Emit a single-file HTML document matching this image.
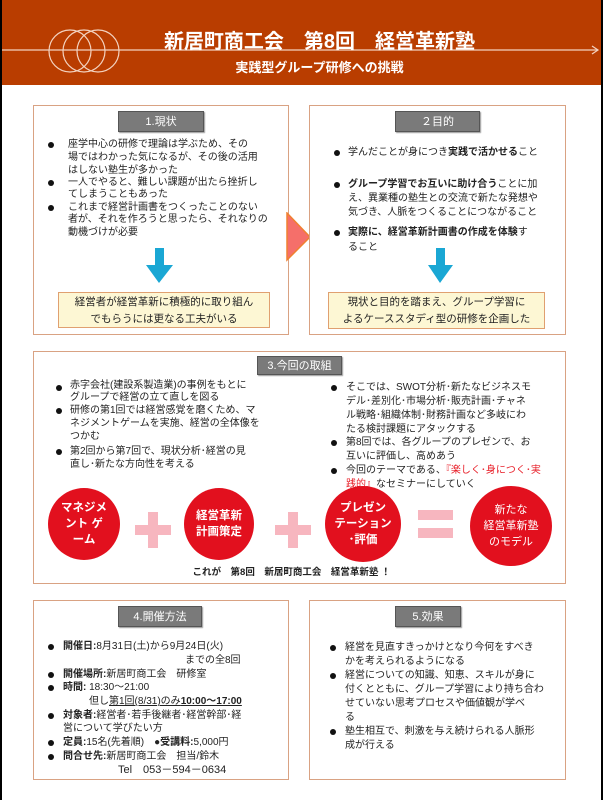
<!DOCTYPE html>
<html><head><meta charset="utf-8"><style>
*{margin:0;padding:0;box-sizing:border-box}
body{width:603px;height:800px;position:relative;background:#fff;overflow:hidden;font-family:"Liberation Sans","Noto Sans CJK JP",sans-serif;color:#222}
.a{position:absolute;white-space:nowrap}
.box{position:absolute;border:1.5px solid #d9a283;background:#fff}
.tag{position:absolute;background:#7a7a7a;border:1px solid #555;color:#fff;font-size:11px;text-align:center;line-height:20px;box-shadow:1px 1px 1px #999}
.t{position:absolute;white-space:nowrap;font-size:10px;line-height:14px;height:14px}
.b{position:absolute;width:6px;height:6px;border-radius:50%;background:#111}
.y{position:absolute;background:#fdf7d4;border:1.5px solid #e0a070;font-size:10.5px;text-align:center;line-height:17px;padding-top:1px}
.c{position:absolute;border-radius:50%;background:#e2101e;color:#fff;font-weight:bold;font-size:11.5px;display:flex;align-items:center;justify-content:center;text-align:center;line-height:16px}
.pk{position:absolute;background:#f7b6bf}
b{font-weight:bold}
</style></head><body>
<div class="a" style="left:0;top:0;width:2px;height:800px;background:#000"></div>
<div class="a" style="right:0;top:0;width:2px;height:800px;background:#000"></div>
<div class="a" style="left:2px;top:0;width:599px;height:85px;background:#b93d00"></div>
<svg class="a" style="left:0;top:0" width="603" height="85">
<g fill="none" stroke="#f3d2bf" stroke-width="1.2">
<circle cx="70" cy="51" r="21"/><circle cx="84" cy="51" r="21"/><circle cx="98" cy="51" r="21"/>
<line x1="2" y1="50" x2="598" y2="50"/><polyline points="592,46 598,50 592,54"/></g>
</svg>
<div class="a" style="left:0;width:603px;top:25px;text-align:center;color:#fff;font-size:20px;font-weight:bold;padding-left:36px">新居町商工会　第8回　経営革新塾</div>
<div class="a" style="left:0;width:603px;top:57px;text-align:center;color:#fff;font-size:13px;font-weight:bold;padding-left:36px">実践型グループ研修への挑戦</div>

<!-- box1 -->
<div class="box" style="left:33px;top:105px;width:256px;height:230px"></div>
<div class="tag" style="left:118px;top:111px;width:86px;height:21px">1.現状</div>
<div class="b" style="left:48px;top:142px"></div><div class="t" style="left:68px;top:138px">座学中心の研修で理論は学ぶため、その</div>
<div class="t" style="left:68px;top:151px">場ではわかった気になるが、その後の活用</div>
<div class="t" style="left:68px;top:164px">はしない塾生が多かった</div>
<div class="b" style="left:48px;top:180px"></div><div class="t" style="left:68px;top:176px">一人でやると、難しい課題が出たら挫折し</div>
<div class="t" style="left:68px;top:188px">てしまうこともあった</div>
<div class="b" style="left:48px;top:205px"></div><div class="t" style="left:68px;top:201px">これまで経営計画書をつくったことのない</div>
<div class="t" style="left:68px;top:213px">者が、それを作ろうと思ったら、それなりの</div>
<div class="t" style="left:68px;top:226px">動機づけが必要</div>
<svg class="a" style="left:145px;top:248px" width="30" height="36"><polygon points="10,0 19,0 19,17 28,17 14,35 1,17 10,17" fill="#1aa7d4"/></svg>
<div class="y" style="left:58px;top:292px;width:212px;height:36px">経営者が経営革新に積極的に取り組ん<br>でもらうには更なる工夫がいる</div>

<svg class="a" style="left:286px;top:212px" width="26" height="50"><polygon points="1,1 24,25 1,48" fill="#f56f6a" stroke="#f08030" stroke-width="1.5"/></svg>

<!-- box2 -->
<div class="box" style="left:309px;top:105px;width:257px;height:230px"></div>
<div class="tag" style="left:395px;top:111px;width:85px;height:21px">２目的</div>
<div class="b" style="left:334px;top:150px"></div><div class="t" style="left:348px;top:146px">学んだことが身につき<b>実践で活かせる</b>こと</div>
<div class="b" style="left:334px;top:182px"></div><div class="t" style="left:348px;top:178px"><b>グループ学習でお互いに助け合う</b>ことに加</div>
<div class="t" style="left:348px;top:192px">え、異業種の塾生との交流で新たな発想や</div>
<div class="t" style="left:348px;top:206px">気づき、人脈をつくることにつながること</div>
<div class="b" style="left:334px;top:230px"></div><div class="t" style="left:348px;top:226px"><b>実際に、経営革新計画書の作成を体験</b>す</div>
<div class="t" style="left:348px;top:241px">ること</div>
<svg class="a" style="left:427px;top:248px" width="28" height="36"><polygon points="9,0 18,0 18,17 26,17 13,35 1,17 9,17" fill="#1aa7d4"/></svg>
<div class="y" style="left:328px;top:292px;width:217px;height:37px">現状と目的を踏まえ、グループ学習に<br>よるケーススタディ型の研修を企画した</div>

<!-- box3 -->
<div class="box" style="left:33px;top:351px;width:533px;height:233px"></div>
<div class="tag" style="left:257px;top:356px;width:85px;height:19px;line-height:18px">3.今回の取組</div>
<div class="b" style="left:56px;top:385px"></div><div class="t" style="left:70px;top:379px">赤字会社(建設系製造業)の事例をもとに</div>
<div class="t" style="left:70px;top:391px">グループで経営の立て直しを図る</div>
<div class="b" style="left:56px;top:408px"></div><div class="t" style="left:70px;top:404px">研修の第1回では経営感覚を磨くため、マ</div>
<div class="t" style="left:70px;top:417px">ネジメントゲームを実施、経営の全体像を</div>
<div class="t" style="left:70px;top:430px">つかむ</div>
<div class="b" style="left:56px;top:449px"></div><div class="t" style="left:70px;top:445px">第2回から第7回で、現状分析･経営の見</div>
<div class="t" style="left:70px;top:458px">直し･新たな方向性を考える</div>
<div class="b" style="left:331px;top:385px"></div><div class="t" style="left:346px;top:381px">そこでは、SWOT分析･新たなビジネスモ</div>
<div class="t" style="left:346px;top:395px">デル･差別化･市場分析･販売計画･チャネ</div>
<div class="t" style="left:346px;top:409px">ル戦略･組織体制･財務計画など多岐にわ</div>
<div class="t" style="left:346px;top:423px">たる検討課題にアタックする</div>
<div class="b" style="left:331px;top:440px"></div><div class="t" style="left:346px;top:436px">第8回では、各グループのプレゼンで、お</div>
<div class="t" style="left:346px;top:450px">互いに評価し、高めあう</div>
<div class="b" style="left:331px;top:468px"></div><div class="t" style="left:346px;top:464px">今回のテーマである、<span style="color:#e8202a">『楽しく･身につく･実</span></div>
<div class="t" style="left:346px;top:478px"><span style="color:#e8202a">践的』</span>なセミナーにしていく</div>

<div class="c" style="left:48px;top:488px;width:72px;height:72px">マネジメ<br>ント ゲ<br>ーム</div>
<div class="pk" style="left:135px;top:525px;width:36px;height:10px"></div><div class="pk" style="left:148px;top:512px;width:10px;height:36px"></div>
<div class="c" style="left:184px;top:488px;width:70px;height:72px">経営革新<br>計画策定</div>
<div class="pk" style="left:275px;top:525px;width:36px;height:10px"></div><div class="pk" style="left:288px;top:512px;width:10px;height:36px"></div>
<div class="c" style="left:325px;top:486px;width:76px;height:76px">プレゼン<br>テーション<br>･評価</div>
<div class="pk" style="left:418px;top:510px;width:35px;height:10px"></div><div class="pk" style="left:418px;top:528px;width:35px;height:10px"></div>
<div class="c" style="left:470px;top:486px;width:82px;height:80px;font-weight:normal;font-size:11px">新たな<br>経営革新塾<br>のモデル</div>
<div class="t" style="left:0;width:603px;text-align:center;top:566px;font-weight:bold;font-size:9.5px"><span style="margin-right:20px">これが　第8回　新居町商工会　経営革新塾 ！</span></div>

<!-- box4 -->
<div class="box" style="left:33px;top:600px;width:256px;height:180px"></div>
<div class="tag" style="left:118px;top:606px;width:84px;height:21px">4.開催方法</div>
<div class="b" style="left:48px;top:644px"></div><div class="t" style="left:63px;top:640px"><b>開催日:</b>8月31日(土)から9月24日(火)</div>
<div class="t" style="left:185px;top:654px">までの全8回</div>
<div class="b" style="left:48px;top:672px"></div><div class="t" style="left:63px;top:668px"><b>開催場所:</b>新居町商工会　研修室</div>
<div class="b" style="left:48px;top:685px"></div><div class="t" style="left:63px;top:681px"><b>時間:</b> 18:30～21:00</div>
<div class="t" style="left:89px;top:695px">但し<u>第1回(8/31)のみ<b>10:00～17:00</b></u></div>
<div class="b" style="left:48px;top:713px"></div><div class="t" style="left:63px;top:709px"><b>対象者:</b>経営者･若手後継者･経営幹部･経</div>
<div class="t" style="left:63px;top:722px">営について学びたい方</div>
<div class="b" style="left:48px;top:740px"></div><div class="t" style="left:63px;top:736px"><b>定員:</b>15名(先着順)　<b>●受講料:</b>5,000円</div>
<div class="b" style="left:48px;top:754px"></div><div class="t" style="left:63px;top:750px"><b>問合せ先:</b>新居町商工会　担当/鈴木</div>
<div class="t" style="left:118px;top:763px;font-size:11px">Tel　053－594－0634</div>

<!-- box5 -->
<div class="box" style="left:309px;top:600px;width:257px;height:180px"></div>
<div class="tag" style="left:395px;top:606px;width:66px;height:21px">5.効果</div>
<div class="b" style="left:330px;top:645px"></div><div class="t" style="left:345px;top:641px">経営を見直すきっかけとなり今何をすべき</div>
<div class="t" style="left:345px;top:655px">かを考えられるようになる</div>
<div class="b" style="left:330px;top:673px"></div><div class="t" style="left:345px;top:669px">経営についての知識、知恵、スキルが身に</div>
<div class="t" style="left:345px;top:683px">付くとともに、グループ学習により持ち合わ</div>
<div class="t" style="left:345px;top:697px">せていない思考プロセスや価値観が学べ</div>
<div class="t" style="left:345px;top:711px">る</div>
<div class="b" style="left:330px;top:729px"></div><div class="t" style="left:345px;top:725px">塾生相互で、刺激を与え続けられる人脈形</div>
<div class="t" style="left:345px;top:739px">成が行える</div>
</body></html>
